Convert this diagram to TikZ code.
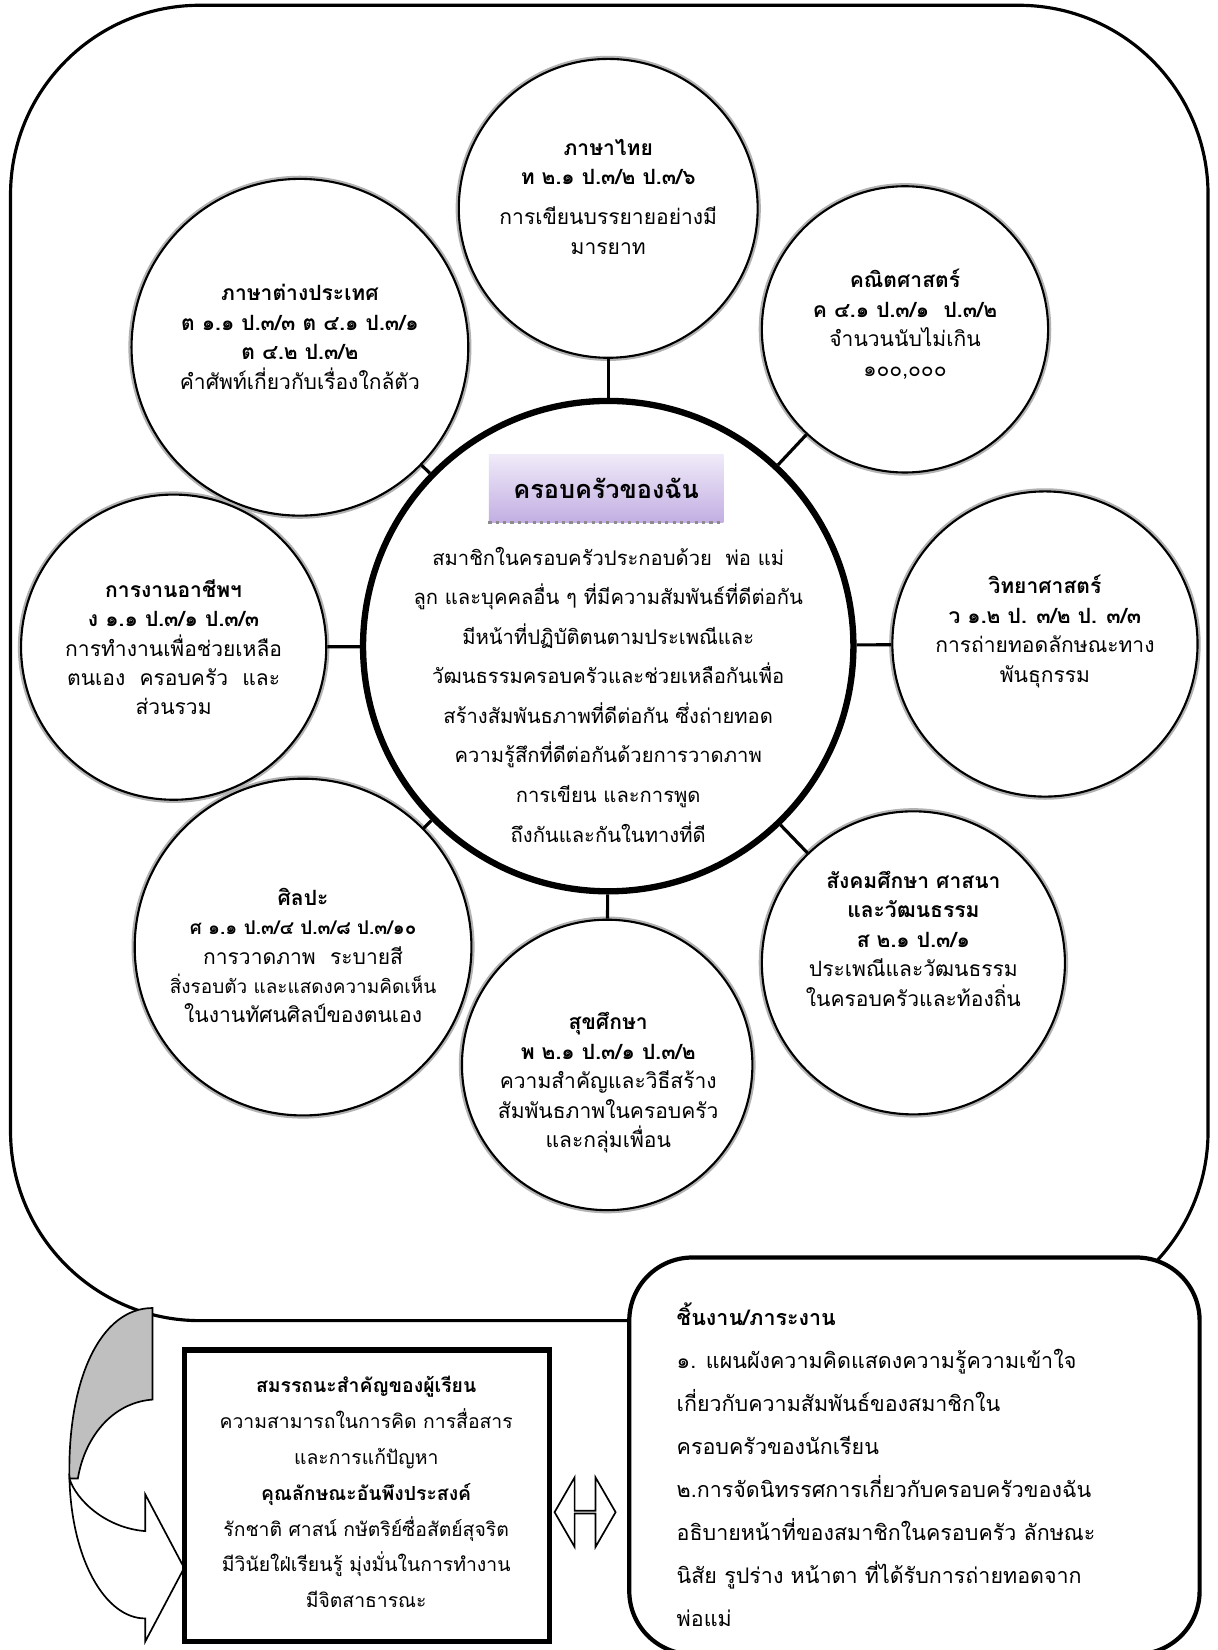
\documentclass[tikz,border=0pt]{standalone}
\usepackage{fontspec}
\newfontfamily\thaifnt[Script=Thai]{Loma}
\usetikzlibrary{shapes.arrows}
\definecolor{lavtop}{HTML}{F0EBF9}
\definecolor{lavbot}{HTML}{C2AEE2}
\begin{document}
\begin{tikzpicture}[x=0.5pt,y=-0.5pt,
    subj/.style={circle, draw, line width=1pt, fill=white, preaction={draw=black!30, line width=3pt}},
    subjtxt/.style={align=center, font=\thaifnt\fontsize{10}{14}\selectfont},
    link/.style={line width=1.5pt}]
\useasboundingbox (0,0) rectangle (1157,1568);
\clip (0,0) rectangle (1157,1568);
\fill[white] (0,0) rectangle (1157,1568);
\draw[line width=1.5pt, rounded corners=90pt] (10,5) rectangle (1148,1255);
        \node at (578,198) [subj, minimum size=142pt] (thai) {};
        \node at (860,313) [subj, minimum size=136pt] (math) {};
        \node at (285,330) [subj, minimum size=160pt] (lang) {};
        \node at (165,615) [subj, minimum size=145pt] (work) {};
        \node at (993,612) [subj, minimum size=145pt] (sci) {};
        \node at (288,900) [subj, minimum size=160pt] (art) {};
        \node at (868,915) [subj, minimum size=144pt] (soc) {};
        \node at (577,1012) [subj, minimum size=138pt] (health) {};
        \node at (578,614) [circle, draw, line width=3pt, fill=white, minimum size=233pt] (family) {};
        \draw (thai)[link] -- (family);
        \draw (math)[link] -- (family);
        \draw (lang)[link] -- (family);
        \draw (work)[link] -- (family);
        \draw (sci)[link] -- (family);
        \draw (art)[link] -- (family);
        \draw (soc)[link] -- (family);
        \draw (health)[link] -- (family);
        \node at (578,187) [subjtxt] (thaitxt) {\textbf{ภาษาไทย}\\\textbf{ท ๒.๑ ป.๓/๒ ป.๓/๖}\\[5pt]การเขียนบรรยายอย่างมี\\มารยาท};
        \node at (860,308) [subjtxt] (mathtxt) {\textbf{คณิตศาสตร์}\\\textbf{ค ๔.๑ ป.๓/๑~~ป.๓/๒}\\จำนวนนับไม่เกิน\\๑๐๐,๐๐๐};
        \node at (285,320) [subjtxt] (langtxt) {\textbf{ภาษาต่างประเทศ}\\\textbf{ต ๑.๑ ป.๓/๓ ต ๔.๑ ป.๓/๑}\\\textbf{ต ๔.๒ ป.๓/๒}\\คำศัพท์เกี่ยวกับเรื่องใกล้ตัว};
        \node at (165,615) [subjtxt] (worktxt) {\textbf{การงานอาชีพฯ}\\\textbf{ง ๑.๑ ป.๓/๑ ป.๓/๓}\\การทำงานเพื่อช่วยเหลือ\\ตนเอง~~ครอบครัว~~และ\\ส่วนรวม};
        \node at (993,600) [subjtxt] (scitxt) {\textbf{วิทยาศาสตร์}\\\textbf{ว ๑.๒ ป. ๓/๒ ป. ๓/๓}\\การถ่ายทอดลักษณะทาง\\พันธุกรรม};
        \node at (288,908) [subjtxt] (arttxt) {\textbf{ศิลปะ}\\{\fontsize{9}{14}\selectfont\textbf{ศ ๑.๑ ป.๓/๔ ป.๓/๘ ป.๓/๑๐}}\\การวาดภาพ~~ระบายสี\\{\fontsize{9}{14}\selectfont สิ่งรอบตัว และแสดงความคิดเห็น}\\ในงานทัศนศิลป์ของตนเอง};
        \node at (868,892) [subjtxt] (soctxt) {\textbf{สังคมศึกษา ศาสนา}\\\textbf{และวัฒนธรรม}\\\textbf{ส ๒.๑ ป.๓/๑}\\ประเพณีและวัฒนธรรม\\ในครอบครัวและท้องถิ่น};
        \node at (578,1029) [subjtxt] (healthtxt) {\textbf{สุขศึกษา}\\\textbf{พ ๒.๑ ป.๓/๑ ป.๓/๒}\\ความสำคัญและวิธีสร้าง\\สัมพันธภาพในครอบครัว\\และกลุ่มเพื่อน};
        \node at (576,464) [minimum width=111.5pt, minimum height=32.5pt, top color=lavtop, bottom color=lavbot, font=\thaifnt\bfseries\fontsize{12}{14}\selectfont] (title) {ครอบครัวของฉัน};
        \draw[black!45, line width=1.5pt, dotted] (title.south west) -- (title.south east);
        \node at (578,660) [align=center, font=\thaifnt\fontsize{9.6}{18.8}\selectfont] (famtxt) {สมาชิกในครอบครัวประกอบด้วย~~พ่อ แม่\\ลูก และบุคคลอื่น ๆ ที่มีความสัมพันธ์ที่ดีต่อกัน\\มีหน้าที่ปฏิบัติตนตามประเพณีและ\\วัฒนธรรมครอบครัวและช่วยเหลือกันเพื่อ\\สร้างสัมพันธภาพที่ดีต่อกัน ซึ่งถ่ายทอด\\ความรู้สึกที่ดีต่อกันด้วยการวาดภาพ\\การเขียน และการพูด\\ถึงกันและกันในทางที่ดี};
\filldraw[fill=black!25, line width=0.8pt] (145,1243) .. controls (95,1243) and (64,1312) .. (66,1405) -- (74,1405) .. controls (80,1368) and (105,1333) .. (145,1330) -- cycle;
\filldraw[fill=white, line width=0.8pt] (66,1405) .. controls (68,1482) and (100,1538) .. (138,1538) -- (138,1560) -- (175,1490) -- (138,1420) -- (138,1455) .. controls (100,1452) and (72,1425) .. (66,1405) -- cycle;
        \node at (348.5,1421.5) [draw, line width=2.5pt, fill=white, minimum width=173.5pt, minimum height=138.5pt] (skill) {};
        \node at (348,1418) [align=center, font=\thaifnt\fontsize{9.2}{17}\selectfont] (skilltxt) {\textbf{สมรรถนะสำคัญของผู้เรียน}\\ความสามารถในการคิด การสื่อสาร\\และการแก้ปัญหา\\\textbf{คุณลักษณะอันพึงประสงค์}\\รักชาติ ศาสน์ กษัตริย์ซื่อสัตย์สุจริต\\มีวินัยใฝ่เรียนรู้ มุ่งมั่นในการทำงาน\\มีจิตสาธารณะ};
        \node at (869,1383.5) [draw, line width=2pt, rounded corners=30pt, fill=white, minimum width=271pt, minimum height=188.5pt] (task) {};
        \node at (636,1392) [anchor=west, align=left, font=\thaifnt\fontsize{10.2}{20.4}\selectfont] (tasktxt) {\textbf{ชิ้นงาน/ภาระงาน}\\๑. แผนผังความคิดแสดงความรู้ความเข้าใจ\\เกี่ยวกับความสัมพันธ์ของสมาชิกใน\\ครอบครัวของนักเรียน\\๒.การจัดนิทรรศการเกี่ยวกับครอบครัวของฉัน\\อธิบายหน้าที่ของสมาชิกในครอบครัว ลักษณะ\\นิสัย รูปร่าง หน้าตา ที่ได้รับการถ่ายทอดจาก\\พ่อแม่};
        \node at (556,1437) [double arrow, draw, line width=0.8pt, fill=white, minimum height=29pt, minimum width=33pt, double arrow head extend=10pt, double arrow tip angle=120, inner sep=0pt] (both) {};
\end{tikzpicture}
\end{document}
